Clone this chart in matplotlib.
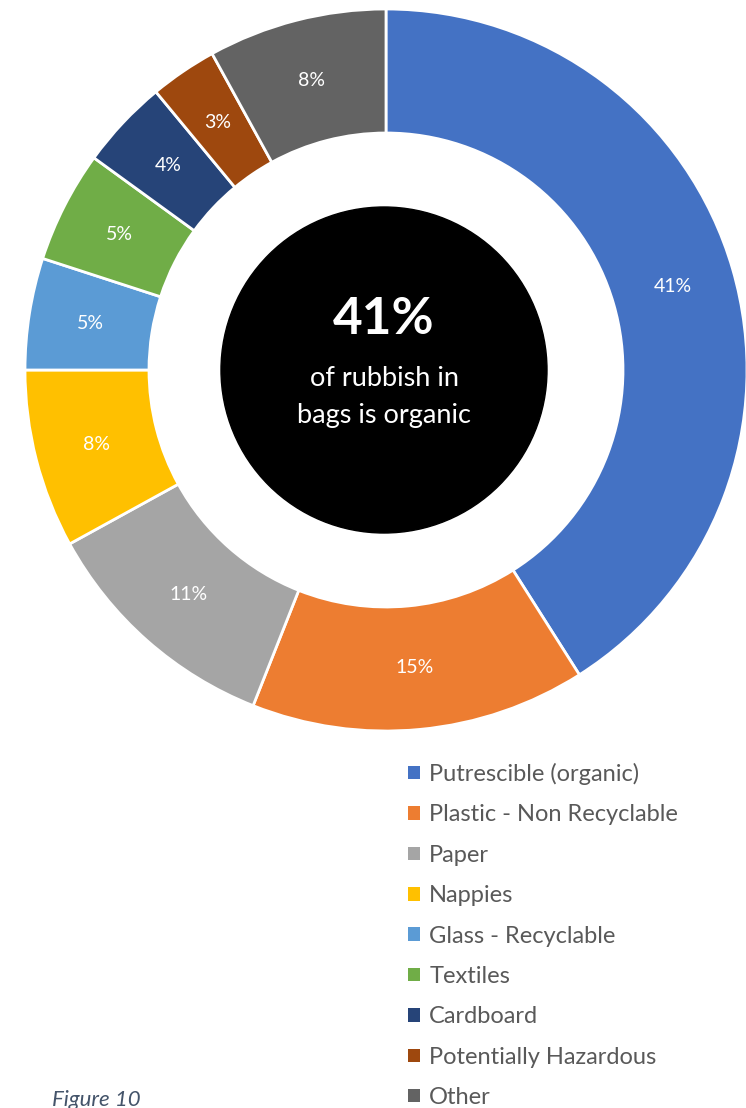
import matplotlib.pyplot as plt
from matplotlib.patches import Circle

plt.rcParams["font.family"] = ["Lato", "DejaVu Sans"]

categories = [
    "Putrescible (organic)",
    "Plastic - Non Recyclable",
    "Paper",
    "Nappies",
    "Glass - Recyclable",
    "Textiles",
    "Cardboard",
    "Potentially Hazardous",
    "Other",
]
shares = [41, 15, 11, 8, 5, 5, 4, 3, 8]
colors = ["#4472C4", "#ED7D31", "#A5A5A5", "#FFC000", "#5B9BD5",
          "#70AD47", "#264478", "#9E480E", "#636363"]

W, H = 746, 1108
fig = plt.figure(figsize=(W / 100, H / 100), dpi=100)
ax = fig.add_axes([0, 0, 1, 1])

cx, cy = 386, H - 370
r_out, ring = 361, 124

wedges, _, pct = ax.pie(
    shares, colors=colors, center=(cx, cy), radius=r_out,
    startangle=90, counterclock=False,
    wedgeprops=dict(width=ring, edgecolor="white", linewidth=2),
    autopct=lambda p: f"{p:.0f}%", pctdistance=(r_out - ring / 2) / r_out,
    textprops=dict(color="white", fontsize=14),
)
ax.set_xlim(0, W)
ax.set_ylim(0, H)
ax.set_aspect("equal")
ax.axis("off")

# black disc in the middle with the headline figure
ax.add_patch(Circle((cx - 2, cy), 163, color="black", zorder=3))
ax.text(cx - 2, H - 319, f"{shares[0]}%", color="white", fontsize=37,
        fontweight="bold", ha="center", va="center", zorder=4)
ax.text(cx - 2, H - 378, "of rubbish in", color="white", fontsize=19.5,
        ha="center", va="center", zorder=4)
ax.text(cx - 2, H - 415, "bags is organic", color="white", fontsize=19.5,
        ha="center", va="center", zorder=4)

leg = ax.legend(
    wedges, categories, loc="upper left",
    bbox_to_anchor=(408 / W, 1 - 763 / H),
    frameon=False, fontsize=17, labelcolor="#595959",
    handlelength=0.5, handleheight=0.5, handletextpad=0.4,
    labelspacing=0.82, borderaxespad=0, borderpad=0,
)
for h in leg.legend_handles:
    h.set_edgecolor("none")

ax.text(52, H - 1100, "Figure 10", color="#44546A", fontsize=16,
        style="italic", ha="left", va="center")

fig.savefig("out.png", dpi=100)
